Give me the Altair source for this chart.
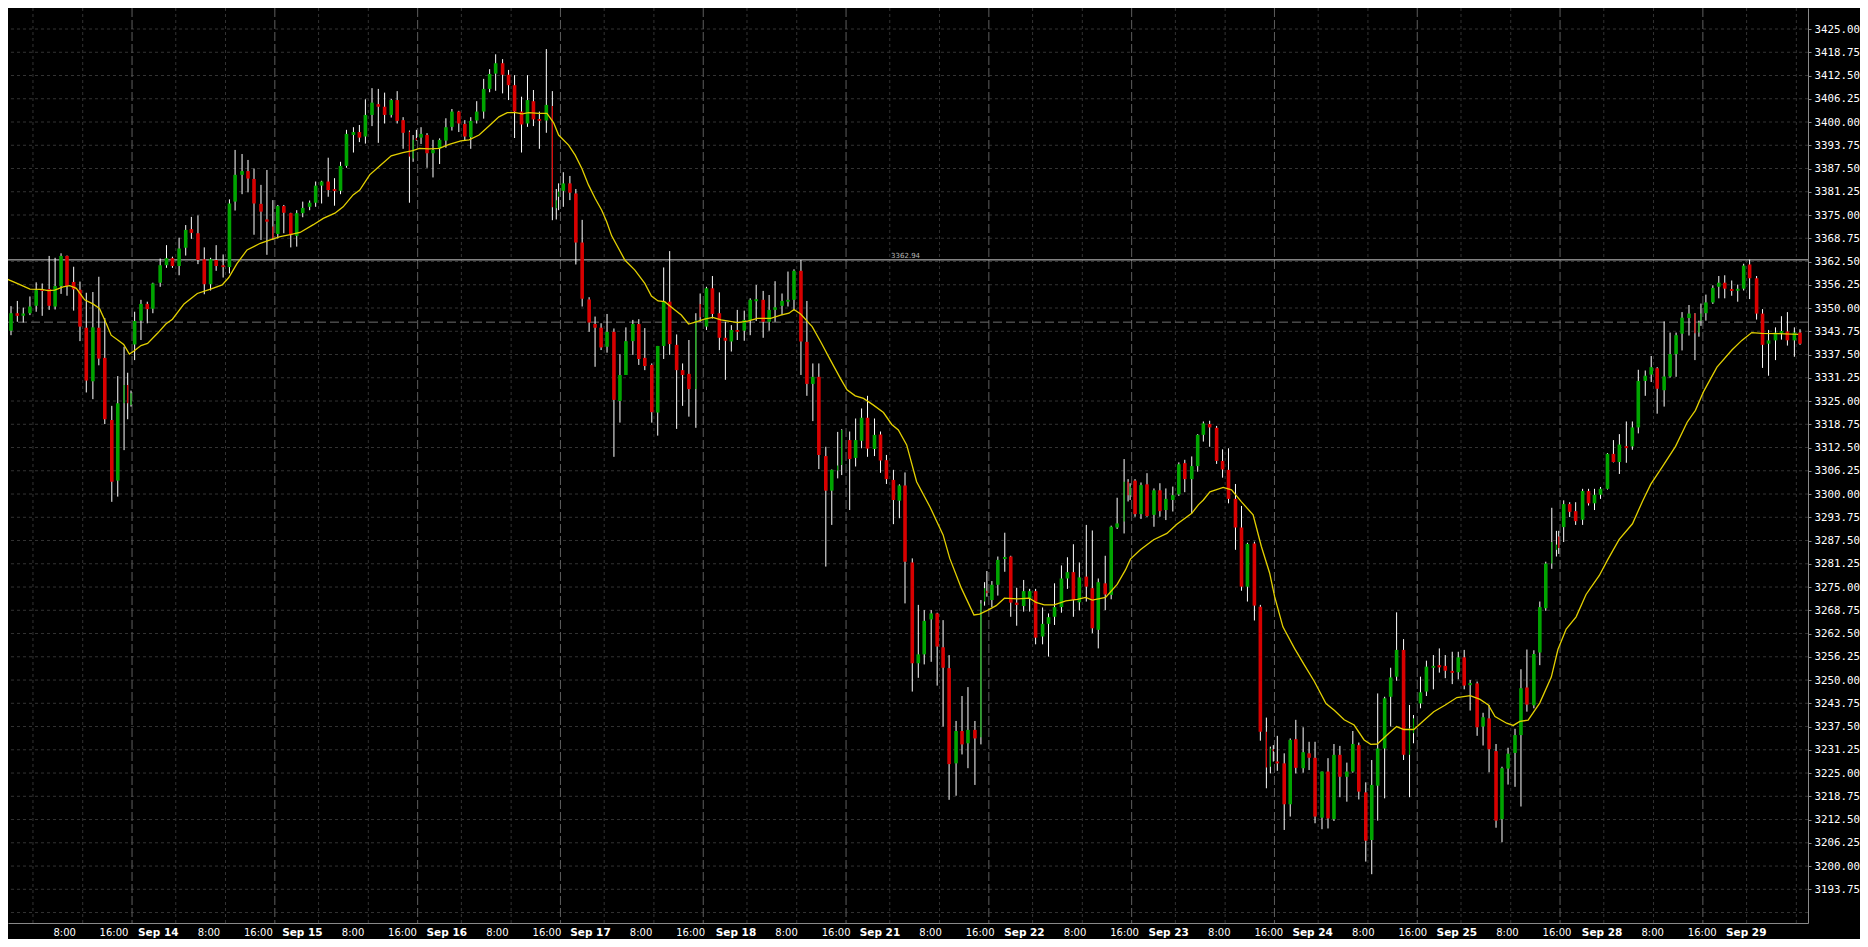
import altair as alt
import pandas as pd

# ---- candle data (hourly-ish bars; time in hours from chart origin) ----
T = [2.66, 3.66, 4.72, 5.72, 6.84, 7.89, 8.90, 10.07, 11.07, 12.07,
     13.07, 14.19, 15.25, 16.31, 17.42, 18.42, 19.42, 20.60, 21.60, 22.66,
     23.27, 23.83, 24.44, 25.50, 26.56, 27.50, 28.73, 29.79, 30.79, 31.91,
     33.02, 33.97, 35.08, 36.14, 37.20, 38.14, 39.31, 40.37, 41.32, 42.49,
     43.49, 44.50, 45.67, 46.67, 47.67, 48.50, 49.51, 50.68, 51.68, 52.69,
     53.85, 54.86, 55.86, 56.97, 58.03, 59.04, 60.04, 61.21, 62.21, 63.22,
     64.33, 65.39, 66.45, 67.56, 68.56, 69.56, 70.62, 71.24, 71.79, 72.57,
     73.58, 74.58, 75.69, 76.75, 77.76, 78.92, 79.93, 80.93, 81.93, 83.10,
     84.10, 85.11, 86.28, 87.28, 88.29, 89.46, 90.46, 91.46, 92.46, 93.63,
     94.64, 95.30, 95.69, 96.48, 97.59, 98.59, 99.65, 100.82, 101.82, 102.83,
     103.83, 104.99, 106.00, 107.00, 108.17, 109.17, 110.18, 111.35, 112.35, 113.35,
     114.36, 115.53, 116.53, 117.59, 118.76, 119.48, 120.54, 121.54, 122.71, 123.72,
     124.72, 125.72, 126.89, 127.89, 128.90, 130.07, 131.07, 132.07, 133.24, 134.24,
     135.25, 136.42, 137.42, 138.42, 139.43, 140.60, 141.60, 142.60, 143.27, 144.61,
     145.61, 146.61, 147.61, 148.78, 149.79, 150.79, 151.96, 152.96, 153.91, 155.13,
     156.14, 157.14, 158.31, 159.31, 160.31, 161.32, 162.49, 163.49, 164.49, 165.66,
     166.67, 167.28, 167.67, 168.51, 169.51, 170.68, 171.68, 172.68, 173.85, 174.86,
     175.86, 177.03, 178.03, 179.04, 180.20, 181.21, 182.21, 183.21, 184.38, 185.39,
     186.39, 187.56, 188.56, 189.56, 190.73, 191.40, 191.74, 192.57, 193.57, 194.58,
     195.75, 196.75, 197.75, 198.92, 199.93, 200.93, 202.10, 203.10, 204.05, 205.11,
     206.28, 207.28, 208.28, 209.45, 210.46, 211.46, 212.63, 213.63, 214.64, 215.31,
     215.81, 216.48, 217.64, 218.65, 219.59, 220.82, 221.82, 222.82, 223.99, 225.00,
     226.00, 227.00, 228.17, 229.17, 230.18, 231.35, 232.35, 233.35, 234.52, 235.53,
     236.53, 237.70, 238.70, 239.37, 240.54, 241.54, 242.71, 243.71, 244.71, 245.88,
     246.89, 247.89, 248.89, 250.06, 251.06, 252.07, 253.24, 254.24, 255.26, 256.43,
     257.43, 258.43, 259.60, 260.60, 261.60, 262.61, 263.39, 263.78, 264.61, 265.62,
     266.62, 267.79, 268.79, 269.79, 270.80, 271.97, 272.97, 273.97, 275.14, 276.15,
     277.15, 278.32, 279.32, 280.32, 281.49, 282.49, 283.50, 284.50, 285.67, 286.67,
     287.34, 287.68, 288.51, 289.68, 290.68, 291.68, 292.85, 293.86, 294.86, 295.86,
     297.03, 298.03, 299.04, 300.21, 301.21, 302.21, 303.38, 304.33]

OPEN = [3336.5, 3343.9, 3348.6, 3347.9, 3348.6, 3350.6, 3355.0, 3355.1, 3350.4, 3355.9,
        3364.0, 3357.0, 3354.9, 3344.7, 3330.3, 3344.7, 3336.6, 3319.9, 3303.6, 3324.4,
        3329.3, 3323.9, 3340.2, 3346.6, 3351.1, 3349.8, 3356.8, 3361.5, 3363.4, 3361.3,
        3366.2, 3371.2, 3370.1, 3363.1, 3356.4, 3362.9, 3361.5, 3361.0, 3378.6, 3385.8,
        3386.8, 3384.7, 3378.0, 3373.8, 3371.9, 3369.9, 3377.4, 3375.5, 3369.4, 3375.5,
        3377.2, 3378.3, 3382.9, 3384.0, 3381.9, 3381.5, 3388.2, 3396.5, 3397.3, 3396.1,
        3401.9, 3404.8, 3404.1, 3401.9, 3405.9, 3400.5, 3397.4, 3390.2, 3395.6, 3395.8,
        3396.5, 3391.6, 3392.9, 3395.0, 3398.7, 3402.8, 3399.5, 3395.9, 3400.4, 3402.8,
        3408.9, 3413.0, 3415.8, 3412.7, 3409.9, 3402.8, 3399.6, 3405.6, 3400.8, 3400.4,
        3404.3, 3376.8, 3379.9, 3381.5, 3383.5, 3380.8, 3367.6, 3352.3, 3345.7, 3344.7,
        3339.6, 3343.6, 3325.0, 3332.0, 3341.1, 3345.7, 3336.6, 3334.7, 3321.9, 3339.8,
        3351.7, 3340.1, 3333.3, 3332.3, 3328.2, 3351.1, 3345.0, 3355.3, 3348.6, 3342.0,
        3341.0, 3344.1, 3343.9, 3346.8, 3351.9, 3352.2, 3346.3, 3349.5, 3350.6, 3351.7,
        3352.2, 3360.0, 3340.9, 3329.6, 3331.5, 3310.2, 3300.9, 3306.3, 3307.8, 3314.5,
        3309.7, 3314.3, 3320.5, 3312.1, 3316.0, 3309.1, 3303.8, 3298.2, 3302.3, 3281.6,
        3254.5, 3256.9, 3266.3, 3267.9, 3258.8, 3253.2, 3227.6, 3236.3, 3233.0, 3236.6,
        3234.6, 3271.1, 3274.0, 3271.5, 3275.6, 3282.6, 3283.2, 3270.8, 3269.9, 3272.0,
        3273.9, 3261.7, 3265.1, 3267.0, 3269.6, 3277.3, 3279.0, 3270.9, 3277.8, 3274.7,
        3263.5, 3276.0, 3272.9, 3291.0, 3292.6, 3303.3, 3299.7, 3303.6, 3294.6, 3302.6,
        3294.4, 3301.0, 3295.7, 3298.4, 3299.9, 3308.3, 3304.0, 3307.5, 3315.9, 3318.8,
        3317.8, 3308.9, 3306.5, 3298.7, 3291.0, 3275.1, 3286.7, 3269.7, 3236.1, 3226.7,
        3231.2, 3228.1, 3227.6, 3216.6, 3234.1, 3226.3, 3230.3, 3229.1, 3213.0, 3225.4,
        3212.6, 3229.9, 3224.0, 3225.4, 3232.5, 3219.8, 3207.0, 3221.6, 3231.6, 3245.5,
        3250.9, 3258.1, 3229.9, 3235.7, 3243.7, 3246.9, 3253.3, 3254.0, 3253.8, 3252.4,
        3252.1, 3256.1, 3248.7, 3249.1, 3237.5, 3239.7, 3230.9, 3212.6, 3226.2, 3230.4,
        3235.2, 3248.0, 3243.2, 3257.4, 3269.3, 3281.3, 3285.0, 3288.6, 3291.1, 3297.3,
        3295.4, 3293.1, 3300.8, 3297.5, 3299.8, 3301.4, 3310.8, 3308.6, 3312.8, 3312.8,
        3317.9, 3330.4, 3332.1, 3333.8, 3327.9, 3331.6, 3337.6, 3343.1, 3347.3, 3348.5,
        3343.4, 3346.6, 3348.6, 3351.5, 3355.7, 3356.8, 3355.0, 3354.7, 3355.2, 3361.7,
        3358.0, 3348.5, 3340.4, 3341.3, 3343.4, 3343.7, 3341.3, 3343.4]

HIGH = [3342.3, 3350.5, 3351.9, 3350.1, 3353.1, 3356.9, 3356.6, 3364.0, 3363.5, 3364.7,
        3364.1, 3361.1, 3357.1, 3354.1, 3354.3, 3358.4, 3347.3, 3323.7, 3331.7, 3339.6,
        3332.6, 3327.8, 3349.0, 3352.2, 3351.7, 3356.8, 3363.3, 3366.9, 3363.8, 3368.9,
        3372.3, 3374.5, 3374.9, 3366.3, 3363.5, 3366.9, 3364.4, 3379.2, 3392.5, 3391.4,
        3389.8, 3387.5, 3383.1, 3387.1, 3379.0, 3377.7, 3377.7, 3375.6, 3376.3, 3378.6,
        3378.9, 3384.0, 3384.2, 3390.4, 3384.9, 3389.3, 3397.9, 3398.6, 3399.2, 3406.1,
        3409.1, 3408.9, 3407.9, 3406.2, 3408.3, 3401.3, 3397.7, 3396.5, 3397.9, 3398.6,
        3397.0, 3395.2, 3395.6, 3401.0, 3403.5, 3403.0, 3400.5, 3401.3, 3405.6, 3411.6,
        3414.2, 3418.2, 3416.9, 3414.0, 3412.6, 3406.8, 3412.6, 3408.6, 3402.8, 3419.6,
        3408.3, 3382.0, 3383.5, 3386.5, 3385.5, 3382.0, 3373.7, 3352.9, 3347.7, 3345.9,
        3348.4, 3344.5, 3337.6, 3344.8, 3346.8, 3347.0, 3344.6, 3335.1, 3339.8, 3360.9,
        3365.3, 3342.9, 3335.1, 3341.4, 3348.6, 3353.9, 3355.7, 3358.6, 3354.2, 3346.3,
        3345.4, 3349.5, 3349.3, 3352.6, 3356.2, 3354.6, 3353.5, 3357.2, 3353.9, 3359.8,
        3360.4, 3362.9, 3351.9, 3335.1, 3335.1, 3312.7, 3306.6, 3316.7, 3317.4, 3316.8,
        3320.3, 3323.0, 3326.4, 3320.3, 3316.8, 3310.5, 3306.5, 3302.6, 3305.8, 3282.7,
        3270.2, 3268.8, 3268.8, 3268.1, 3266.1, 3256.7, 3239.0, 3245.7, 3248.1, 3239.0,
        3271.5, 3276.3, 3279.3, 3276.6, 3283.2, 3289.6, 3283.4, 3274.8, 3276.9, 3274.5,
        3274.5, 3269.5, 3267.9, 3276.0, 3280.8, 3283.0, 3286.5, 3281.6, 3291.7, 3290.2,
        3277.3, 3283.4, 3291.5, 3299.0, 3309.4, 3304.0, 3302.9, 3304.0, 3303.1, 3305.6,
        3301.5, 3302.9, 3301.5, 3302.0, 3308.5, 3309.2, 3310.1, 3316.1, 3319.5, 3319.7,
        3318.3, 3312.0, 3312.3, 3302.7, 3296.8, 3286.9, 3287.2, 3270.2, 3239.9, 3232.1,
        3232.5, 3235.0, 3230.3, 3234.3, 3239.3, 3237.3, 3233.4, 3233.4, 3225.4, 3229.0,
        3232.8, 3232.3, 3227.8, 3236.3, 3233.2, 3222.5, 3228.5, 3246.4, 3245.5, 3253.3,
        3268.2, 3261.0, 3243.3, 3240.6, 3250.9, 3255.2, 3256.7, 3258.5, 3256.7, 3257.6,
        3257.6, 3258.1, 3250.0, 3249.6, 3241.2, 3243.3, 3232.8, 3226.7, 3231.8, 3236.9,
        3252.9, 3258.2, 3258.0, 3271.1, 3281.8, 3296.3, 3290.1, 3290.1, 3298.3, 3297.8,
        3297.8, 3301.4, 3301.4, 3301.4, 3301.9, 3311.0, 3314.5, 3316.1, 3319.5, 3319.5,
        3333.4, 3333.2, 3337.1, 3334.1, 3346.4, 3343.4, 3343.4, 3348.9, 3350.8, 3348.6,
        3346.6, 3351.2, 3353.6, 3356.1, 3358.6, 3358.8, 3357.4, 3356.3, 3361.9, 3363.0,
        3358.6, 3349.7, 3344.1, 3344.8, 3347.8, 3348.9, 3344.8, 3344.3]

LOW = [3336.0, 3342.7, 3346.3, 3346.1, 3348.1, 3349.0, 3347.9, 3349.5, 3349.6, 3353.8,
       3353.3, 3349.3, 3341.1, 3327.3, 3325.5, 3334.6, 3318.8, 3297.9, 3299.3, 3311.8,
       3320.1, 3323.5, 3336.0, 3341.4, 3345.9, 3348.6, 3355.7, 3360.8, 3360.8, 3358.8,
       3364.1, 3368.6, 3361.8, 3353.7, 3354.7, 3360.0, 3358.2, 3359.3, 3376.2, 3380.6,
       3381.1, 3369.7, 3368.3, 3364.3, 3368.3, 3368.7, 3370.1, 3366.3, 3366.5, 3374.4,
       3376.3, 3377.2, 3378.1, 3379.9, 3377.5, 3380.6, 3387.7, 3391.8, 3394.6, 3394.2,
       3398.9, 3394.4, 3399.6, 3401.2, 3399.6, 3392.8, 3378.3, 3389.3, 3395.0, 3394.1,
       3387.7, 3385.1, 3388.7, 3393.1, 3397.7, 3397.3, 3394.9, 3392.8, 3399.6, 3400.9,
       3408.0, 3408.4, 3407.7, 3405.9, 3395.7, 3391.8, 3398.7, 3398.9, 3392.8, 3397.1,
       3373.6, 3373.8, 3376.3, 3377.2, 3379.0, 3361.7, 3350.4, 3343.6, 3334.2, 3338.7,
       3338.0, 3310.0, 3319.2, 3332.0, 3337.4, 3334.7, 3333.3, 3319.2, 3315.7, 3336.3,
       3337.4, 3317.5, 3323.7, 3320.8, 3317.8, 3346.3, 3344.1, 3347.2, 3338.7, 3330.7,
       3338.3, 3341.4, 3341.2, 3342.7, 3346.5, 3342.0, 3343.9, 3346.3, 3348.1, 3350.4,
       3349.3, 3332.0, 3326.4, 3319.6, 3306.7, 3280.5, 3291.7, 3304.2, 3305.1, 3295.7,
       3307.4, 3312.3, 3310.0, 3310.2, 3305.7, 3302.7, 3291.9, 3293.5, 3270.6, 3246.9,
       3250.6, 3254.2, 3254.9, 3248.5, 3237.5, 3217.8, 3218.9, 3230.0, 3226.3, 3221.8,
       3232.7, 3270.0, 3272.4, 3269.6, 3272.7, 3279.1, 3267.0, 3264.6, 3268.4, 3268.4,
       3259.6, 3259.6, 3256.3, 3264.8, 3268.1, 3274.5, 3267.0, 3268.7, 3271.1, 3262.6,
       3258.5, 3268.8, 3271.7, 3290.6, 3289.4, 3298.0, 3298.4, 3293.9, 3293.3, 3293.9,
       3291.2, 3293.9, 3293.0, 3295.3, 3299.5, 3300.5, 3294.8, 3306.0, 3314.1, 3312.7,
       3308.1, 3304.4, 3297.5, 3285.0, 3274.0, 3271.1, 3266.0, 3233.7, 3220.9, 3224.9,
       3228.1, 3225.6, 3209.7, 3213.3, 3224.9, 3225.1, 3225.8, 3211.5, 3209.9, 3210.1,
       3212.1, 3218.5, 3217.3, 3225.1, 3217.9, 3201.2, 3197.8, 3212.2, 3218.2, 3237.5,
       3249.8, 3228.5, 3218.5, 3233.0, 3242.4, 3245.7, 3247.5, 3252.0, 3250.5, 3248.9,
       3250.2, 3247.5, 3241.8, 3235.0, 3232.4, 3225.2, 3210.3, 3206.4, 3221.9, 3221.3,
       3216.0, 3241.5, 3242.4, 3254.0, 3268.6, 3279.9, 3283.2, 3283.9, 3287.1, 3293.8,
       3291.7, 3291.7, 3296.9, 3295.7, 3298.7, 3301.2, 3308.5, 3305.4, 3308.4, 3311.9,
       3316.3, 3326.4, 3330.1, 3321.6, 3323.5, 3331.3, 3331.5, 3338.6, 3342.6, 3336.0,
       3342.3, 3345.2, 3346.6, 3351.1, 3352.6, 3352.6, 3353.3, 3351.7, 3354.7, 3352.4,
       3346.9, 3333.9, 3331.8, 3336.0, 3341.5, 3339.9, 3336.9, 3340.1]

CLOSE = [3341.8, 3348.6, 3347.9, 3348.5, 3350.4, 3354.8, 3354.7, 3350.6, 3355.9, 3364.0,
         3355.9, 3355.0, 3345.0, 3330.5, 3344.8, 3336.4, 3320.1, 3303.3, 3324.4, 3329.3,
         3324.4, 3327.1, 3346.5, 3351.1, 3349.7, 3356.6, 3361.5, 3363.4, 3361.3, 3366.0,
         3371.0, 3370.2, 3362.9, 3356.4, 3363.1, 3361.3, 3361.0, 3378.1, 3385.8, 3386.8,
         3384.8, 3378.1, 3375.9, 3373.2, 3368.7, 3377.4, 3375.6, 3369.6, 3375.5, 3376.9,
         3378.3, 3382.9, 3384.0, 3381.7, 3381.5, 3388.2, 3396.8, 3397.3, 3395.8, 3401.9,
         3405.2, 3404.1, 3401.9, 3405.9, 3400.3, 3397.1, 3390.7, 3395.2, 3395.2, 3396.8,
         3391.6, 3392.5, 3395.2, 3398.6, 3402.8, 3399.6, 3396.1, 3400.3, 3402.8, 3408.9,
         3412.9, 3415.8, 3412.7, 3409.9, 3402.8, 3399.3, 3405.9, 3400.7, 3400.3, 3404.6,
         3377.1, 3379.0, 3381.3, 3383.5, 3381.0, 3367.6, 3352.5, 3346.1, 3344.7, 3339.4,
         3343.6, 3325.3, 3332.0, 3341.1, 3345.7, 3336.3, 3334.4, 3322.0, 3339.8, 3351.7,
         3340.3, 3333.3, 3332.0, 3328.2, 3346.8, 3347.5, 3355.3, 3348.4, 3342.0, 3341.2,
         3344.1, 3343.6, 3346.8, 3352.2, 3352.3, 3346.3, 3349.5, 3350.2, 3351.9, 3352.2,
         3360.0, 3341.0, 3329.6, 3331.5, 3310.5, 3300.9, 3306.5, 3307.7, 3317.2, 3309.4,
         3314.5, 3320.5, 3312.2, 3315.9, 3309.0, 3304.0, 3298.4, 3302.3, 3281.8, 3254.5,
         3256.9, 3265.9, 3267.9, 3259.0, 3253.3, 3227.4, 3236.3, 3232.7, 3236.6, 3234.3,
         3270.6, 3274.7, 3273.3, 3275.6, 3282.3, 3283.0, 3270.8, 3270.2, 3273.9, 3273.9,
         3261.4, 3265.1, 3266.9, 3269.6, 3277.3, 3279.0, 3271.5, 3277.6, 3275.1, 3263.9,
         3276.3, 3273.0, 3291.2, 3292.1, 3303.3, 3299.7, 3302.0, 3294.6, 3302.4, 3294.1,
         3301.0, 3295.4, 3298.7, 3299.7, 3308.0, 3304.0, 3307.5, 3315.9, 3319.0, 3317.9,
         3308.9, 3306.6, 3298.7, 3291.0, 3275.1, 3286.6, 3270.0, 3236.1, 3226.5, 3231.6,
         3231.0, 3227.6, 3216.6, 3233.9, 3226.4, 3230.6, 3229.1, 3213.3, 3225.4, 3212.8,
         3229.9, 3224.0, 3225.4, 3232.8, 3220.0, 3206.8, 3221.8, 3231.6, 3245.1, 3250.7,
         3258.1, 3229.9, 3237.0, 3239.7, 3246.7, 3253.6, 3253.8, 3253.4, 3252.5, 3252.0,
         3256.1, 3248.5, 3249.1, 3237.3, 3240.0, 3231.4, 3212.2, 3226.3, 3230.2, 3235.2,
         3247.8, 3243.4, 3257.0, 3269.6, 3281.3, 3287.1, 3286.4, 3285.5, 3297.3, 3295.2,
         3292.7, 3300.8, 3297.5, 3299.8, 3301.4, 3310.8, 3308.6, 3313.3, 3312.4, 3317.9,
         3330.4, 3331.8, 3334.1, 3328.3, 3331.6, 3337.6, 3342.7, 3347.4, 3348.5, 3343.2,
         3346.1, 3348.5, 3351.5, 3355.4, 3356.8, 3355.2, 3354.7, 3355.1, 3361.4, 3358.0,
         3348.5, 3340.1, 3341.3, 3343.4, 3343.7, 3341.3, 3343.4, 3340.4]

# short end-of-session bars (drawn with a hairline body)
PARTIAL_BARS = [19, 20, 21, 44, 66, 67, 68, 90, 91, 92, 114, 115, 137, 138,
                160, 161, 162, 184, 185, 186, 208, 209, 210, 232, 233,
                255, 256, 257, 279, 280, 281]

# ---- moving average (yellow), read at sample points ----
MA_T = [2.66, 4.88, 6.84, 8.79, 9.90, 11.01, 12.41, 13.52, 14.64, 16.03,
        17.42, 18.53, 19.65, 20.49, 21.60, 22.60, 23.55, 24.38, 25.50, 26.61,
        28.28, 29.68, 30.79, 32.74, 34.97, 37.20, 39.15, 40.26, 41.66, 43.33,
        45.55, 47.23, 48.90, 50.57, 52.24, 54.47, 56.14, 58.09, 59.48, 61.15,
        62.27, 63.94, 65.61, 67.56, 69.51, 71.18, 72.30, 73.97, 75.64, 77.31,
        79.26, 80.65, 82.32, 83.99, 85.66, 87.06, 88.45, 89.56, 90.68, 92.35,
        93.74, 94.86, 95.69, 97.37, 98.48, 99.60, 100.71, 101.82, 102.94, 103.77,
        104.61, 106.83, 108.51, 110.18, 111.29, 112.41, 113.52, 114.92, 116.31, 117.53,
        118.81, 120.20, 121.60, 122.99, 125.78, 127.45, 129.12, 131.35, 133.02, 134.41,
        135.25, 136.36, 138.31, 139.71, 141.38, 143.05, 144.16, 145.55, 146.94, 148.61,
        150.29, 151.68, 152.79, 154.19, 155.86, 158.09, 160.31, 161.43, 163.38, 165.50,
        166.44, 167.84, 169.23, 170.62, 172.85, 174.80, 175.92, 177.31, 178.98, 180.93,
        182.88, 184.27, 185.39, 187.62, 189.56, 190.96, 191.79, 193.46, 195.69, 197.92,
        199.59, 202.10, 203.21, 204.05, 205.16, 207.39, 208.78, 210.46, 212.41, 213.80,
        215.20, 216.03, 217.42, 219.37, 221.04, 222.71, 224.66, 226.05, 227.72, 229.39,
        231.07, 232.18, 233.29, 235.24, 236.53, 237.75, 239.42, 241.10, 242.77, 244.71,
        246.66, 248.89, 250.56, 251.95, 253.07, 255.02, 256.13, 257.24, 258.63, 260.58,
        262.53, 263.64, 265.03, 266.70, 268.37, 270.60, 271.99, 273.94, 276.17, 277.84,
        279.23, 281.18, 283.41, 285.36, 286.75, 288.14, 290.37, 292.88, 294.55, 296.22,
        297.89, 300.68, 304.02]

MA_V = [3358.0, 3356.5, 3355.1, 3355.0, 3354.7, 3354.8, 3355.7, 3356.0, 3355.3, 3352.2,
        3351.1, 3349.9, 3345.9, 3342.7, 3341.4, 3340.2, 3337.6, 3338.5, 3339.9, 3340.5,
        3343.2, 3345.7, 3347.0, 3351.1, 3353.9, 3355.1, 3356.2, 3358.2, 3362.0, 3365.6,
        3367.4, 3368.3, 3369.2, 3369.7, 3370.3, 3372.4, 3374.1, 3375.5, 3377.2, 3380.4,
        3381.7, 3385.8, 3388.2, 3390.9, 3391.8, 3392.3, 3392.9, 3392.8, 3392.9, 3394.0,
        3394.9, 3395.2, 3396.5, 3398.9, 3401.4, 3402.5, 3402.5, 3402.2, 3402.5, 3402.3,
        3402.3, 3399.8, 3396.5, 3393.8, 3391.1, 3387.5, 3383.1, 3379.5, 3376.3, 3373.2,
        3369.4, 3362.9, 3360.2, 3356.6, 3353.2, 3351.9, 3351.7, 3349.9, 3348.1, 3345.7,
        3346.3, 3347.0, 3347.5, 3346.8, 3346.1, 3346.5, 3347.2, 3347.2, 3348.1, 3348.6,
        3349.6, 3348.4, 3345.0, 3341.0, 3336.0, 3331.1, 3328.0, 3326.4, 3325.7, 3323.9,
        3321.9, 3318.7, 3317.2, 3313.2, 3303.3, 3296.6, 3289.0, 3282.7, 3274.7, 3267.5,
        3267.7, 3268.8, 3270.0, 3272.0, 3271.8, 3272.0, 3270.9, 3270.2, 3270.2, 3271.3,
        3271.7, 3272.2, 3271.5, 3272.2, 3275.7, 3279.6, 3282.5, 3285.0, 3287.7, 3289.4,
        3291.9, 3294.8, 3297.1, 3298.4, 3300.6, 3301.8, 3301.1, 3297.9, 3294.4, 3285.9,
        3278.7, 3272.4, 3264.3, 3258.5, 3254.0, 3249.6, 3243.7, 3241.9, 3239.3, 3237.9,
        3233.9, 3232.7, 3232.8, 3235.7, 3237.5, 3236.7, 3236.7, 3239.1, 3241.5, 3243.3,
        3245.3, 3245.8, 3244.8, 3243.3, 3240.2, 3238.4, 3237.8, 3238.9, 3239.2, 3243.8,
        3250.8, 3258.2, 3263.7, 3267.0, 3273.0, 3278.1, 3282.3, 3287.8, 3292.0, 3298.0,
        3302.6, 3307.3, 3312.8, 3319.3, 3322.5, 3327.6, 3334.1, 3338.7, 3341.3, 3343.4,
        3343.2, 3343.1, 3342.9]

# ---- reference lines ----
PRICE_LINE = 3362.94
DASHED_LEVEL = 3346.2

# ---- time axis labels ----
DATE_LABELS = ["Sep 14", "Sep 15", "Sep 16", "Sep 17", "Sep 18", "Sep 21",
               "Sep 22", "Sep 23", "Sep 24", "Sep 25", "Sep 28", "Sep 29"]
DATE_T = [28.41, 52.63, 76.90, 101.05, 125.50, 149.70,
          173.98, 198.22, 222.42, 246.65, 271.06, 295.29]
TIME_LABELS = ["8:00", "16:00"] * 12
TIME_T = [12.69, 20.96, 36.92, 45.24, 61.14, 69.46, 85.40, 93.73,
          109.55, 117.88, 134.01, 142.33, 158.21, 166.53, 182.49, 190.81,
          206.73, 215.05, 230.93, 239.25, 255.16, 263.48, 279.57, 287.89]

# session separators and intraday grid lines (hours)
SESSION_T = [24, 48, 72, 96, 120, 144, 168, 192, 216, 240, 264, 288]
GRID_T = [d + off for d in [0] + SESSION_T for off in (7.35, 15.71)]

PRICE_LABELS = [3193.75 + 6.25 * k for k in range(38)]
PRICE_GRID = [3187.5 + 6.25 * k for k in range(40)]

# ---- build frames ----
bars = pd.DataFrame({"t": T, "o": OPEN, "h": HIGH, "l": LOW, "c": CLOSE})
part = set(PARTIAL_BARS)
bars["partial"] = [i in part for i in range(len(bars))]
bars["dir"] = ["up" if c >= o else "down" for o, c in zip(bars["o"], bars["c"])]
top = bars[["o", "c"]].max(axis=1)
bot = bars[["o", "c"]].min(axis=1)
mid = (top + bot) / 2
thin = (top - bot) < 0.5
bars["bt"] = top.where(~thin, mid + 0.27)
bars["bb"] = bot.where(~thin, mid - 0.27)

ma = pd.DataFrame({"t": MA_T, "v": MA_V})

XS = alt.Scale(domain=[3.994, 304.83], nice=False, zero=False)
YS = alt.Scale(domain=[3184.69, 3430.645], nice=False, zero=False)
AXC = "#8a8a8a"
X_AXIS = alt.Axis(orient="bottom", labels=False, ticks=False, grid=False,
                  domain=True, domainColor=AXC, title=None)
Y_AXIS = alt.Axis(orient="right", values=PRICE_LABELS, format=".2f",
                  labelFont="DejaVu Sans Mono", labelFontSize=10.8,
                  labelColor="#ffffff", tickColor=AXC, tickSize=3,
                  labelPadding=3, domainColor=AXC, grid=False, title=None,
                  labelOverlap=False, labelBound=False, labelFlush=False)


def xq(f):
    return alt.X(f, type="quantitative", scale=XS, axis=X_AXIS)


def yq(f):
    return alt.Y(f, type="quantitative", scale=YS, axis=Y_AXIS)


GRIDC = "#333333"
hgrid = alt.Chart(pd.DataFrame({"p": PRICE_GRID})).mark_rule(
    color=GRIDC, strokeDash=[3, 3], strokeWidth=1, clip=True).encode(y=yq("p"))
vgrid = alt.Chart(pd.DataFrame({"t": GRID_T})).mark_rule(
    color=GRIDC, strokeDash=[3, 3], strokeWidth=1, clip=True).encode(x=xq("t"))
seps = alt.Chart(pd.DataFrame({"t": SESSION_T})).mark_rule(
    color="#5e5e5e", strokeDash=[9, 3], strokeWidth=1, clip=True).encode(x=xq("t"))
dashed = alt.Chart(pd.DataFrame({"p": [DASHED_LEVEL]})).mark_rule(
    color="#6e6e6e", strokeDash=[9, 4], strokeWidth=1, clip=True).encode(y=yq("p"))
pline = alt.Chart(pd.DataFrame({"p": [PRICE_LINE]})).mark_rule(
    color="#d0d0d0", strokeWidth=1, clip=True).encode(y=yq("p"))
plabel = alt.Chart(pd.DataFrame({"t": [151.57], "p": [PRICE_LINE],
                                 "s": [f"{PRICE_LINE:.2f}"]})).mark_text(
    font="DejaVu Sans", fontSize=7, color="#b8b8b8", align="left",
    baseline="bottom", dy=-1).encode(x=xq("t"), y=yq("p"), text="s:N")

base = alt.Chart(bars)
col = alt.Color("dir:N", scale=alt.Scale(domain=["up", "down"],
                                         range=["#00a400", "#d80000"]), legend=None)
wicks = base.mark_rule(color="#ffffff", strokeWidth=1, clip=True).encode(
    x=xq("t"), y=yq("l"), y2="h")
bodies = base.transform_filter("!datum.partial").mark_bar(size=3.6, clip=True).encode(
    x=xq("t"), y=yq("bb"), y2="bt", color=col)
thin_bodies = base.transform_filter("datum.partial").mark_bar(size=1.2, clip=True).encode(
    x=xq("t"), y=yq("bb"), y2="bt", color=col)

ma_line = alt.Chart(ma).mark_line(color="#e3d000", strokeWidth=1.3, clip=True).encode(
    x=xq("t"), y=yq("v"))

dates = alt.Chart(pd.DataFrame({"t": DATE_T, "s": DATE_LABELS})).mark_text(
    font="DejaVu Sans", fontWeight="bold", fontSize=10.5, color="#ffffff",
    align="center", baseline="middle").encode(x=xq("t"), y=alt.value(925), text="s:N")
times = alt.Chart(pd.DataFrame({"t": TIME_T, "s": TIME_LABELS})).mark_text(
    font="DejaVu Sans", fontSize=10, color="#ffffff",
    align="center", baseline="middle").encode(x=xq("t"), y=alt.value(925), text="s:N")

chart = alt.layer(hgrid, vgrid, seps, dashed, pline, wicks, bodies, thin_bodies,
                  ma_line, plabel, dates, times).properties(
    width=1800, height=915, padding=0, background="#000000"
).configure_view(stroke=None)

chart.save("out.html", embed_options={"renderer": "svg", "actions": False})
